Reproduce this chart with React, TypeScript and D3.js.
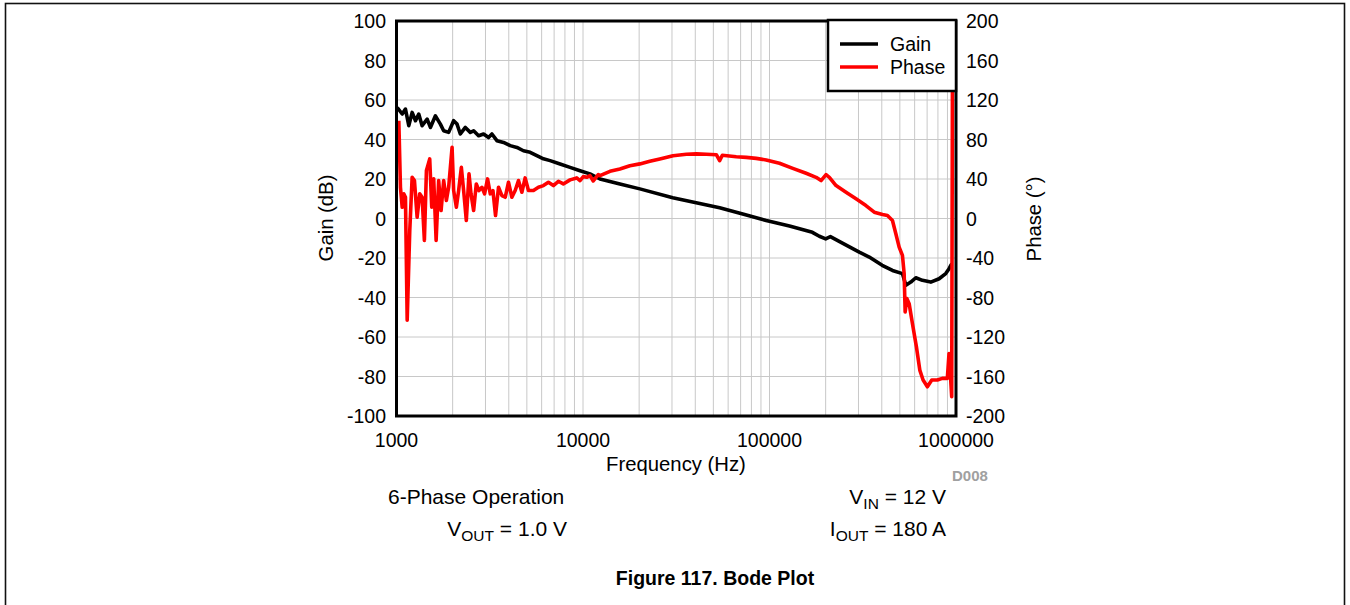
import React from "react";
import * as d3 from "d3";

// ---- data ----
const gainFreq = [
  1009, 1073, 1117, 1164, 1213, 1264, 1316, 1372, 1460, 1520, 1617, 1719, 1790, 1904, 2025, 2111,
  2199, 2339, 2487, 2591, 2755, 2930, 3116, 3249, 3455, 3748, 4071, 4421, 4793, 5207, 5654, 6135,
  6662, 7534, 8522, 9638, 10900, 12330, 15770, 20170, 30290, 42240, 54030, 73500, 96000, 128000,
  169800, 185000, 200000, 212000, 251800, 302900, 342600, 402000, 456400, 516200, 538300, 572600,
  608700, 660500, 732500, 811700, 881000, 918000, 938000, 950000,
];
const gainDb = [
  56.2, 52.9, 55.4, 47.0, 53.7, 49.5, 52.9, 47.0, 50.3, 46.1, 52.0, 47.8, 44.4, 43.6, 49.5, 47.8,
  42.8, 46.1, 43.6, 44.4, 41.9, 42.8, 41.0, 42.8, 39.4, 38.5, 36.9, 36.0, 34.3, 33.5, 31.8, 30.2,
  29.3, 27.6, 25.9, 24.2, 22.6, 20.0, 17.5, 15.0, 10.5, 7.6, 5.4, 2.0, -1.0, -3.8,
  -7.0, -9.0, -10.3, -9.2, -13.0, -17.0, -19.5, -23.7, -26.3, -27.9, -33.8, -32.2,
  -30.0, -31.3, -32.2, -30.5, -27.9, -25.4, -23.7, -23.0,
];

const phaseFreq = [
  1029, 1050, 1073, 1094, 1117, 1141, 1178, 1213, 1248, 1290, 1332, 1372, 1411, 1447, 1507, 1545,
  1583, 1631, 1683, 1734, 1790, 1851, 1904, 1986, 2025, 2094, 2154, 2227, 2291, 2368, 2448, 2509,
  2591, 2678, 2768, 2873, 2967, 3078, 3183, 3289, 3396, 3524, 3675, 3827, 3986, 4156, 4329, 4509,
  4701, 4896, 5100, 5425, 5768, 6135, 6523, 6938, 7379, 7846, 8522, 9254, 9638, 10040, 10470,
  10900, 11350, 12070, 12330, 13950, 15770, 17840, 20170, 22820, 25810, 30400, 35850, 40550,
  45860, 51880, 54030, 55860, 66350, 75060, 84890, 96000, 113100, 133300, 157100, 177700, 189000,
  201000, 209400, 227400, 257200, 290900, 328900, 364400, 403600, 429100, 456400, 475800, 495700,
  516200, 527200, 533800, 545100, 560700, 583900, 613400, 639600, 666100, 702300, 741500, 794300,
  844700, 898500, 917600, 932300, 948400, 957900, 962000,
];
const phaseDeg = [
  99, 31.6, 11.4, 25, 21.5, -103, -12, 41.7, 38.4, 1.3, 25, 21.5, -22.2, 48.5, 60.3, 11.4,
  40.1, -22.2, 38.4, 8.1, 38.4, 18.2, 31.6, 72, 28.3, 11.4, 28.3, 51.8, 28.3, -2, 45.2, 25,
  8.1, 35, 28.3, 31.6, 25, 40.1, 25, 28.3, 3, 31.6, 23.2, 21.5, 36.7, 21.5, 28.3, 38.4,
  26.6, 41.1, 28.3, 28.3, 31.6, 33.3, 36.7, 33.3, 37.7, 35, 39.1, 41.1, 38.4, 42.4, 41.7,
  43.4, 38.0, 44.5, 43.4, 47.8, 50.2, 53.5, 55.3, 57.9, 60.3, 63.6, 65, 65.4,
  65, 64.6, 58.6, 64, 62.6, 61.9, 60.9, 59.3, 55.9, 50.8, 45.8, 41.7, 38.4,
  44.4, 41.7, 33.3, 26.6, 19.9, 13.1, 6.4, 4, 3, -2, -15.5, -29,
  -37.4, -55.9, -94.6, -81.1, -86.2, -106.4, -130, -153.5, -163.6, -170.4, -163.6, -163.6,
  -161.9, -161.9, -136.7, -156.9, -180.5, 178, 178,
];

const gainTicks = [100, 80, 60, 40, 20, 0, -20, -40, -60, -80, -100];
const phaseTicks = [200, 160, 120, 80, 40, 0, -40, -80, -120, -160, -200];
const freqTicks = [1000, 10000, 100000, 1000000];
const seriesNames = ["Gain", "Phase"];
const seriesColors = ["#000000", "#ff0000"];

const FONT = "'Liberation Sans', Arial, Helvetica, sans-serif";

export default function App() {
  const left = 396.5, right = 956, top = 21, bottom = 416;
  const x = d3.scaleLog().domain([1000, 1000000]).range([left, right]);
  const yG = d3.scaleLinear().domain([-100, 100]).range([bottom, top]);
  const yP = d3.scaleLinear().domain([-200, 200]).range([bottom, top]);

  const gainLine = d3
    .line<number>()
    .x((_, i) => x(gainFreq[i]))
    .y((d) => yG(d));
  const phaseLine = d3
    .line<number>()
    .x((_, i) => x(phaseFreq[i]))
    .y((d) => yP(d));

  const gridX: number[] = [];
  for (let dec = 1000; dec < 1000000; dec *= 10) {
    for (let k = 1; k <= 9; k++) gridX.push(dec * k);
  }

  const fs = 19.5;
  const fb = 21;
  const fsub = 15.5;

  return (
    <svg
      width={1350}
      height={605}
      style={{ position: "absolute", left: 0, top: 0, background: "#fff" }}
      fontFamily={FONT}
    >
      <rect x={5.5} y={3.5} width={1339} height={700} fill="none" stroke="#111" strokeWidth={1.6} />
      <defs>
        <clipPath id="plotClip">
          <rect x={left} y={top} width={right - left} height={bottom - top} />
        </clipPath>
      </defs>

      {/* grid */}
      {gridX.map((f) => (
        <line key={"gx" + f} x1={x(f)} x2={x(f)} y1={top} y2={bottom} stroke="#c8c8c8" strokeWidth={1} />
      ))}
      {gainTicks.map((t) => (
        <line key={"gy" + t} x1={left} x2={right} y1={yG(t)} y2={yG(t)} stroke="#c8c8c8" strokeWidth={1} />
      ))}

      {/* series */}
      <g clipPath="url(#plotClip)">
        <path d={gainLine(gainDb) || ""} fill="none" stroke={seriesColors[0]} strokeWidth={3.6} strokeLinejoin="round" />
        <path d={phaseLine(phaseDeg) || ""} fill="none" stroke={seriesColors[1]} strokeWidth={3.6} strokeLinejoin="round" />
      </g>

      {/* frame */}
      <rect x={left} y={top} width={right - left} height={bottom - top} fill="none" stroke="#000" strokeWidth={3} />

      {/* left ticks */}
      {gainTicks.map((t) => (
        <text key={"lt" + t} x={386} y={yG(t) + 7} textAnchor="end" fontSize={fs} fill="#000">
          {t}
        </text>
      ))}
      {/* right ticks */}
      {phaseTicks.map((t) => (
        <text key={"rt" + t} x={966} y={yP(t) + 7} textAnchor="start" fontSize={fs} fill="#000">
          {t}
        </text>
      ))}
      {/* x ticks */}
      {freqTicks.map((t) => (
        <text key={"xt" + t} x={x(t)} y={447} textAnchor="middle" fontSize={fs} fill="#000">
          {t}
        </text>
      ))}

      {/* axis titles */}
      <text x={676} y={471} textAnchor="middle" fontSize={20.3} fill="#000">
        Frequency (Hz)
      </text>
      <text transform="translate(333,218) rotate(-90)" textAnchor="middle" fontSize={20.3} fill="#000">
        Gain (dB)
      </text>
      <text transform="translate(1041,219) rotate(-90)" textAnchor="middle" fontSize={20.3} fill="#000">
        Phase (°)
      </text>

      {/* legend */}
      <rect x={828} y={20} width={128} height={71} fill="#fff" stroke="#000" strokeWidth={2.5} />
      {seriesNames.map((n, i) => (
        <g key={n}>
          <line x1={840} x2={878} y1={44 + i * 23} y2={44 + i * 23} stroke={seriesColors[i]} strokeWidth={3.6} />
          <text x={890} y={51 + i * 23} fontSize={fs} fill="#000">
            {n}
          </text>
        </g>
      ))}

      <text x={952} y={481} fontSize={15} fontWeight="bold" fill="#a0a0a0">
        D008
      </text>

      {/* conditions */}
      <text x={388} y={504} fontSize={fb} fill="#000">
        6-Phase Operation
      </text>
      <text x={567} y={536} textAnchor="end" fontSize={fb} fill="#000">
        V<tspan dy={5} fontSize={fsub}>OUT</tspan>
        <tspan dy={-5}> = 1.0 V</tspan>
      </text>
      <text x={946} y={504} textAnchor="end" fontSize={fb} fill="#000">
        V<tspan dy={5} fontSize={fsub}>IN</tspan>
        <tspan dy={-5}> = 12 V</tspan>
      </text>
      <text x={946} y={536} textAnchor="end" fontSize={fb} fill="#000">
        I<tspan dy={5} fontSize={fsub}>OUT</tspan>
        <tspan dy={-5}> = 180 A</tspan>
      </text>

      <text x={715} y={585} textAnchor="middle" fontSize={fs} fontWeight="bold" fill="#000">
        Figure 117. Bode Plot
      </text>
    </svg>
  );
}
